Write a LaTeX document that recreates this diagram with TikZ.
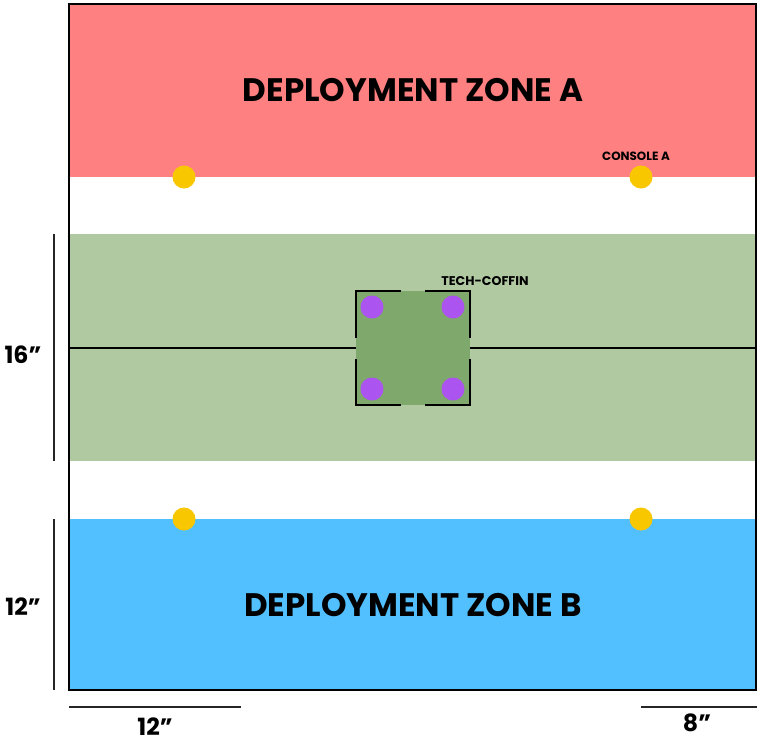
\documentclass[tikz,border=0pt]{standalone}
\usepackage{fontspec}
\setmainfont{Poppins}
\usepackage{tikz}

\definecolor{zonered}{RGB}{255,128,128}
\definecolor{fieldgreen}{RGB}{176,201,161}
\definecolor{coffingreen}{RGB}{127,168,108}
\definecolor{zoneblue}{RGB}{82,192,254}
\definecolor{consolegold}{RGB}{249,199,0}
\definecolor{objpurple}{RGB}{171,84,240}

\begin{document}
\begin{tikzpicture}[x=0.02cm, y=-0.02cm, every node/.style={inner sep=0pt, font=\bfseries}]
			\useasboundingbox (0,0) rectangle (757,745);
			\tikzset{console/.style={circle, fill=consolegold, draw=none, minimum size=0.46cm},
				objective/.style={circle, fill=objpurple, draw=none, minimum size=0.46cm},
				scalebar/.style={line width=1.2pt, draw=black!85},
				zonelabel/.style={font=\bfseries\fontsize{18.5}{22}\selectfont},
				smalllabel/.style={font=\bfseries\fontsize{6.8}{8}\selectfont},
				sizelabel/.style={font=\bfseries\fontsize{13.5}{16}\selectfont}}
			
			% bands of the board
			\fill[zonered] (69,4) rectangle (757,177);
			\fill[fieldgreen] (69,234) rectangle (757,461);
			\fill[zoneblue] (69,519) rectangle (757,690);
			\fill[coffingreen] (356,291) rectangle (470,405);
			
			\node[zonelabel] (zoneA) at (413,90){DEPLOYMENT ZONE A};
			\node[zonelabel] (zoneB) at (413,605){DEPLOYMENT ZONE B};
			
			% centre line and the coffin frame
			\draw[line width=0.9pt] (69,348) -- (356,348);
			\draw[line width=0.9pt] (470,348) -- (756,348);
			\draw[line width=1pt] (401,291) -- (356,291) -- (356,338);
			\draw[line width=1pt] (425,291) -- (470,291) -- (470,338);
			\draw[line width=1pt] (356,359) -- (356,405) -- (401,405);
			\draw[line width=1pt] (470,359) -- (470,405) -- (425,405);
			\node[smalllabel, font=\bfseries\fontsize{7.2}{8}\selectfont] (coffin) at (485,281){TECH-COFFIN};
			
			\node[objective] (o1) at (372,307){};
			\node[objective] (o2) at (453,307){};
			\node[objective] (o3) at (372,389){};
			\node[objective] (o4) at (453,389){};
			
			\node[console] (c1) at (184,177){};
			\node[console] (c2) at (641,177){};
			\node[console] (c3) at (184,519){};
			\node[console] (c4) at (641,519){};
			\node[smalllabel] (consoleA) at (636,156){CONSOLE A};
			
			% board outline
			\draw[line width=1.2pt] (69,4) rectangle (756,690);
			
			% measurements
			\coordinate (s1) at (54,234);
			\coordinate (s2) at (54,461);
			\coordinate (s3) at (54,519);
			\coordinate (s4) at (54,690);
			\coordinate (s5) at (69,707);
			\coordinate (s6) at (241,707);
			\coordinate (s7) at (641,707);
			\coordinate (s8) at (757,707);
			\path[scalebar] (s1) edge (s2);
			\path[scalebar] (s3) edge (s4);
			\path[scalebar] (s5) edge (s6);
			\path[scalebar] (s7) edge (s8);
			\node[sizelabel] (m16) at (23,355){16”};
			\node[sizelabel] (m12) at (23,607){12”};
			\node[sizelabel] (w12) at (155,727){12”};
			\node[sizelabel] (w8) at (697,723){8”};
			\end{tikzpicture}
\end{document}
